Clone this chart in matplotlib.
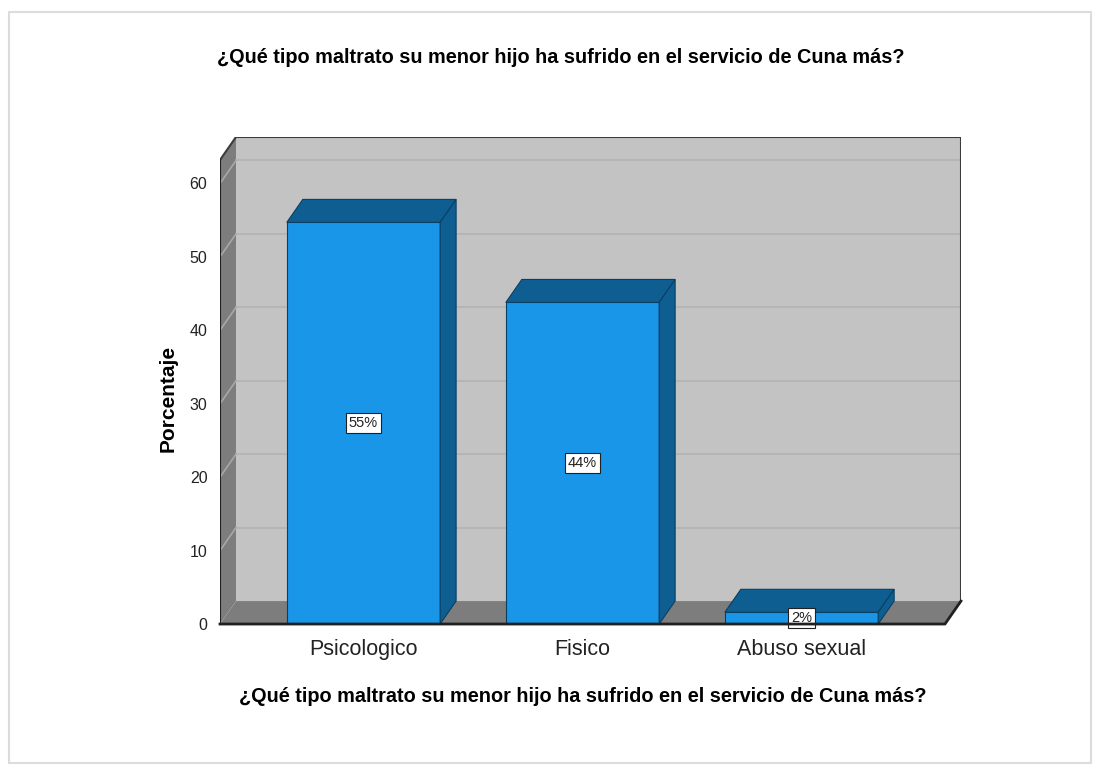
import matplotlib.pyplot as plt
from matplotlib.patches import Polygon, Rectangle

categorias = ['Psicologico', 'Fisico', 'Abuso sexual']
porcentajes = [54.7, 43.8, 1.6]
etiquetas = ['55%', '44%', '2%']
ticks = [0, 10, 20, 30, 40, 50, 60]
titulo = '¿Qué tipo maltrato su menor hijo ha sufrido en el servicio de Cuna más?'

plt.rcParams['font.family'] = ['Liberation Sans', 'DejaVu Sans']

# profundidad del efecto 3D en unidades de datos
dx, dy = 0.073, 3.13
ancho = 0.70
x0, x1 = -0.655, 2.655
ytop = 63.2

fig = plt.figure(figsize=(11, 7.67), dpi=100)
fig.patches.append(Rectangle((0.008, 0.005), 0.984, 0.98, transform=fig.transFigure,
                             fill=False, edgecolor='#dcdcdc', linewidth=1.5))
ax = fig.add_axes([0.2, 0.1864, 0.6736, 0.635])
ax.set_xlim(x0, x1 + dx)
ax.set_ylim(0, ytop + dy)
for s in ax.spines.values():
    s.set_visible(False)

# paredes y piso
ax.add_patch(Rectangle((x0 + dx, dy), x1 - x0, ytop, facecolor='#c3c3c3',
                       edgecolor='none', zorder=1))
ax.add_patch(Polygon([(x0, 0), (x0 + dx, dy), (x0 + dx, ytop + dy), (x0, ytop)],
                     facecolor='#7d7d7d', edgecolor='none', zorder=1))
ax.add_patch(Polygon([(x0, 0), (x1, 0), (x1 + dx, dy), (x0 + dx, dy)],
                     facecolor='#7d7d7d', edgecolor='none', zorder=1))
for t in ticks[1:]:
    ax.plot([x0 + dx, x1 + dx], [t + dy, t + dy], color='#b3b3b3', lw=1.2, zorder=2)
    ax.plot([x0, x0 + dx], [t, t + dy], color='#a8a8a8', lw=1.2, zorder=2)
# bordes
ax.plot([x0 + dx, x1 + dx, x1 + dx], [ytop + dy, ytop + dy, dy], color='#3c3c3c', lw=1.5, zorder=3)
ax.plot([x0, x0 + dx], [ytop, ytop + dy], color='#3c3c3c', lw=1.5, zorder=3)
ax.plot([x0, x0], [0, ytop], color='#202020', lw=1.5, zorder=3)
ax.plot([x0, x1, x1 + dx], [0, 0, dy], color='#202020', lw=2, zorder=6, clip_on=False)

# barras
for i, (v, lab) in enumerate(zip(porcentajes, etiquetas)):
    a, b = i - ancho / 2, i + ancho / 2
    ax.add_patch(Rectangle((a, 0), ancho, v, facecolor='#1a96e8',
                           edgecolor='#0b3f62', lw=0.8, zorder=4))
    ax.add_patch(Polygon([(a, v), (b, v), (b + dx, v + dy), (a + dx, v + dy)],
                         facecolor='#0f5e91', edgecolor='#0b3f62', lw=0.8, zorder=4))
    ax.add_patch(Polygon([(b, 0), (b + dx, dy), (b + dx, v + dy), (b, v)],
                         facecolor='#0f5e91', edgecolor='#0b3f62', lw=0.8, zorder=4))
    ax.text(i, v / 2, lab, ha='center', va='center', fontsize=10.5, zorder=5, color='#222222',
            bbox=dict(boxstyle='square,pad=0.22', facecolor='white', edgecolor='#202020', lw=0.8))

ax.set_xticks(range(len(categorias)))
ax.set_xticklabels(categorias, fontsize=15.5, color='#222222')
ax.set_yticks(ticks)
ax.set_yticklabels([str(t) for t in ticks], fontsize=11.5, color='#222222')
ax.tick_params(length=0)
ax.tick_params(axis='x', pad=11)
ax.tick_params(axis='y', pad=9)
ax.set_ylabel('Porcentaje', fontsize=15, fontweight='bold')
ax.set_xlabel(titulo, fontsize=14.3, fontweight='bold')
ax.yaxis.set_label_coords(-0.057, 0.464)
ax.xaxis.set_label_coords(0.49, -0.129)
fig.text(0.51, 0.925, titulo, ha='center', va='center', fontsize=14.3, fontweight='bold')

fig.savefig('out.png', dpi=100)
